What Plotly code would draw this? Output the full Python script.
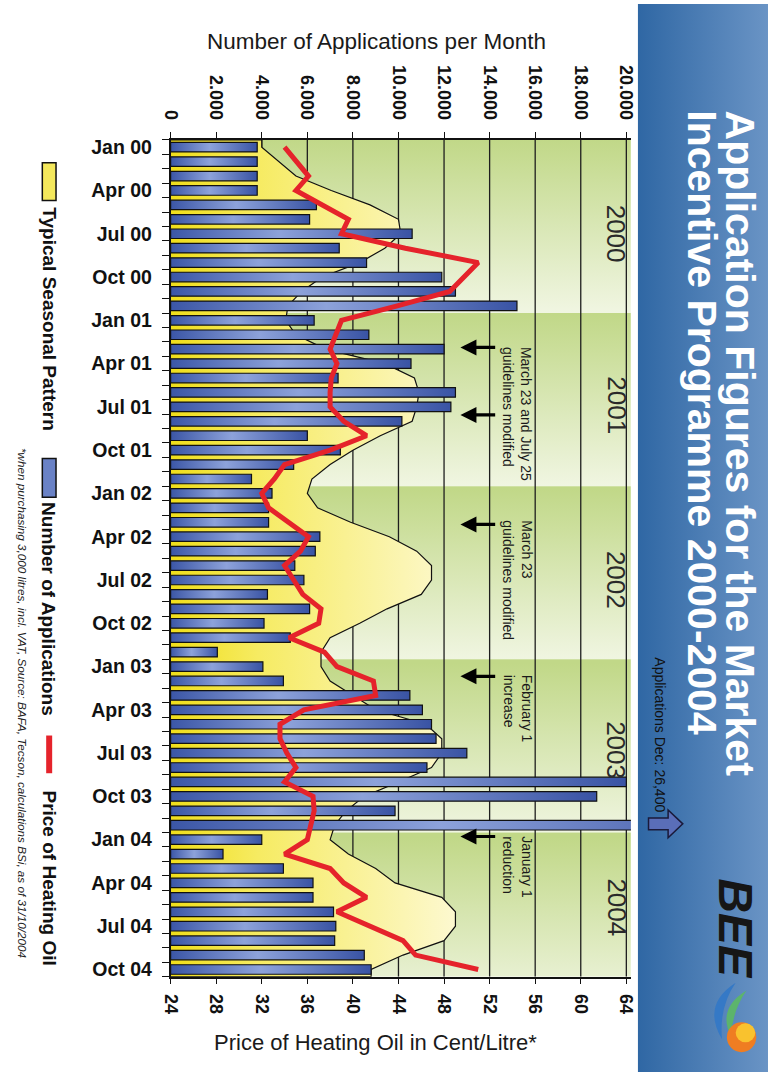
import plotly.graph_objects as go

# ---------------------------------------------------------------- data
month_names = ["Jan", "Feb", "Mar", "Apr", "May", "Jun",
               "Jul", "Aug", "Sep", "Oct", "Nov", "Dec"]
month_labels = [f"{m} {y:02d}" for y in range(0, 5) for m in month_names][:58]

# monthly number of applications (Jan 2000 - Oct 2004)
applications = [
    3800, 3800, 3800, 3800, 6400, 6100, 10600, 7400, 8600, 11900, 12500, 15200,
    6300, 8700, 12000, 10550, 7350, 12500, 12300, 10150, 6000, 7450, 5400, 3550,
    4450, 4300, 4300, 6550, 6350, 5450, 5850, 4250, 6100, 4100, 5250, 2050,
    4050, 4950, 10500, 11050, 11450, 11650, 13000, 11250, 20000, 18700, 9850, 26400,
    4000, 2300, 4950, 6250, 6250, 7150, 7250, 7200, 8500, 8800,
]

# price of heating oil, cent per litre
heating_oil_price = [
    34.0, 35.0, 36.1, 35.0, 37.3, 39.6, 39.0, 44.6, 51.0, 49.8, 48.5, 43.9,
    39.0, 38.5, 38.0, 38.6, 38.1, 38.0, 38.0, 39.2, 41.2, 38.0, 34.0, 33.1,
    32.0, 32.6, 34.3, 36.1, 35.4, 34.0, 34.8, 35.6, 37.2, 37.0, 34.4, 37.5,
    38.6, 41.8, 42.0, 35.7, 33.6, 33.6, 34.2, 35.0, 34.0, 36.5, 36.6, 36.3,
    36.0, 34.0, 38.0, 39.2, 41.2, 38.6, 41.5, 44.4, 45.5, 51.0,
]

# typical seasonal pattern of applications
seasonal_pattern = [
    4000, 4750, 5500, 7050, 8750, 10000, 10100, 9400, 8300, 6650, 5750, 5150,
    5050, 5500, 6800, 9400, 10700, 10900, 10800, 10600, 9200, 8000, 7000, 6200,
    6000, 6450, 7900, 9600, 10800, 11450, 11450, 11000, 9500, 8300, 7000, 6600,
    6600, 7000, 8000, 9000, 11200, 11900, 11900, 11450, 10000, 8500, 7700, 7200,
    7000, 7800, 9000, 9850, 11900, 12500, 12500, 12000, 10200, 8800,
]

years = ["2000", "2001", "2002", "2003", "2004"]
year_label_pos = [6.0, 17.9, 30.0, 41.8, 52.7]

app_ticks = list(range(0, 20001, 2000))
app_tick_text = ["0"] + [f"{v // 1000}.000" for v in app_ticks[1:]]
price_ticks = list(range(24, 65, 4))

# programme changes: (text, text top month, arrow months)
events = [
    ("March 23 and July 25<br>guidelines modified", 13.68, [13.88, 18.56]),
    ("March 23<br>guidelines modified", 25.7, [26.15]),
    ("February 1<br>increase", 36.4, [36.68]),
    ("January 1<br>reduction", 47.6, [47.78]),
]

# ---------------------------------------------------------------- geometry
W, H = 774, 1076
APP_MAX = 20200
APPS_PER_CENT = 500.0
PRICE_MIN = 24
N = len(applications)
FONT = "Liberation Sans, Arial, sans-serif"


def px(x):
    return x / W


def py(y):
    return 1 - y / H


fig = go.Figure()

# year bands with green gradient
for k in range(len(years)):
    top = 12 * k - 0.5
    bottom = min(12 * k + 11.5, N - 0.5)
    fig.add_trace(go.Scatter(
        x=[0, APP_MAX, APP_MAX, 0], y=[top, top, bottom, bottom],
        mode="lines", line=dict(width=0), fill="toself",
        fillgradient=dict(type="vertical", start=top, stop=12 * k + 11.5,
                          colorscale=[[0, "#c1d888"], [1, "#f1f6e3"]]),
        hoverinfo="skip", showlegend=False))

# vertical grid lines
gx, gy = [], []
for v in app_ticks[1:]:
    gx += [v, v, None]
    gy += [-0.5, N - 0.5, None]
fig.add_trace(go.Scatter(x=gx, y=gy, mode="lines",
                         line=dict(color="#1e1e1e", width=1.3),
                         hoverinfo="skip", showlegend=False))

# typical seasonal pattern (area)
sx = [0, seasonal_pattern[0]] + seasonal_pattern + [seasonal_pattern[-1], 0]
sy = [-0.5, -0.5] + list(range(N)) + [N - 0.5, N - 0.5]
fig.add_trace(go.Scatter(
    x=sx, y=sy, mode="lines", fill="toself",
    line=dict(color="#111111", width=1.2),
    fillgradient=dict(type="horizontal", start=0, stop=12500,
                      colorscale=[[0, "#f0de1a"], [0.3, "#f6eb62"], [1, "#fdf9d3"]]),
    hoverinfo="skip", showlegend=False))

# application bars
h = 0.33
for i, v in enumerate(applications):
    fig.add_trace(go.Scatter(
        x=[0, v, v, 0, 0], y=[i - h, i - h, i + h, i + h, i - h],
        mode="lines", fill="toself", line=dict(color="#111111", width=1.2),
        fillgradient=dict(type="horizontal",
                          colorscale=[[0, "#3b56a6"], [0.45, "#8da2da"], [1, "#3953a4"]]),
        hovertemplate=f"{month_labels[i]}: {v}<extra></extra>", showlegend=False))

# heating oil price
fig.add_trace(go.Scatter(
    x=heating_oil_price, y=list(range(N)), xaxis="x2", yaxis="y",
    mode="lines", line=dict(color="#e5232b", width=5),
    hoverinfo="skip", showlegend=False))

# side panel background
fig.add_trace(go.Scatter(
    x=[0, 1, 1, 0, 0], y=[0, 0, 1, 1, 0], xaxis="x3", yaxis="y3",
    mode="lines", line=dict(width=0), fill="toself",
    fillgradient=dict(type="horizontal", colorscale=[[0, "#2f67a4"], [1, "#6a94c5"]]),
    hoverinfo="skip", showlegend=False))

annotations = []

# year labels
for yl, pos in zip(years, year_label_pos):
    annotations.append(dict(x=19550, y=pos, xref="x", yref="y", text=yl,
                            showarrow=False, textangle=90,
                            xanchor="center", yanchor="middle",
                            font=dict(family=FONT, size=26, color="#2a2a2a")))

# event notes and arrows
for text, top, arrows in events:
    annotations.append(dict(x=15230, y=top, xref="x", yref="y", text=text,
                            showarrow=False, textangle=90, align="left",
                            xanchor="center", yanchor="top",
                            font=dict(family=FONT, size=14, color="#1a1a1a")))
    for a in arrows:
        annotations.append(dict(x=12720, y=a, ax=14310, ay=a, xref="x", yref="y",
                                axref="x", ayref="y", text="", showarrow=True,
                                arrowhead=2, arrowsize=1, arrowwidth=3.2,
                                arrowcolor="#000000", standoff=0))

# axis titles
annotations.append(dict(x=px(374), y=py(38), xref="paper", yref="paper",
                        text="Number of Applications per Month", showarrow=False,
                        xanchor="center", yanchor="middle",
                        font=dict(family=FONT, size=22.5, color="#1a1a1a")))
annotations.append(dict(x=px(373), y=py(1046), xref="paper", yref="paper",
                        text="Price of Heating Oil in Cent/Litre*", showarrow=False,
                        xanchor="center", yanchor="middle",
                        font=dict(family=FONT, size=22, color="#1a1a1a")))

# legend texts
legend_items = [("Typical Seasonal Pattern", 203), ("Number of Applications", 500),
                ("Price of Heating Oil", 790)]
for text, top in legend_items:
    annotations.append(dict(x=px(40), y=py(top), xref="paper", yref="paper",
                            text=text, showarrow=False, textangle=90,
                            xanchor="center", yanchor="top",
                            font=dict(family=FONT, size=19, color="#111111",
                                      weight="bold")))
annotations.append(dict(
    x=px(13), y=py(445), xref="paper", yref="paper", showarrow=False,
    text="*when purchasing 3,000 litres, incl. VAT, Source: BAFA, Tecson, "
         "calculations BSi, as of 31/10/2004",
    textangle=90, xanchor="center", yanchor="top",
    font=dict(family=FONT, size=11.7, color="#222222", style="italic")))

# panel title and notes
annotations.append(dict(x=px(745), y=py(105), xref="paper", yref="paper",
                        text="Application Figures for the Market", showarrow=False,
                        textangle=90, xanchor="center", yanchor="top",
                        font=dict(family=FONT, size=41, color="white", weight="bold")))
annotations.append(dict(x=px(707), y=py(105), xref="paper", yref="paper",
                        text="Incentive Programme 2000-2004", showarrow=False,
                        textangle=90, xanchor="center", yanchor="top",
                        font=dict(family=FONT, size=41, color="white", weight="bold")))
annotations.append(dict(x=px(664), y=py(656), xref="paper", yref="paper",
                        text=f"Applications Dec: {applications[47]:,}", showarrow=False,
                        textangle=90, xanchor="center", yanchor="top",
                        font=dict(family=FONT, size=14, color="#111111")))
annotations.append(dict(x=px(741), y=py(932), xref="paper", yref="paper",
                        text="BEE", showarrow=False, textangle=90,
                        xanchor="center", yanchor="middle",
                        font=dict(family=FONT, size=48, color="#161616",
                                  weight="bold", style="italic")))


def path(points):
    s = "M " + " L ".join(f"{px(x):.5f},{py(y):.5f}" for x, y in points)
    return s + " Z"


def qpath(p0, c1, p1, c2):
    return (f"M {px(p0[0]):.5f},{py(p0[1]):.5f} "
            f"Q {px(c1[0]):.5f},{py(c1[1]):.5f} {px(p1[0]):.5f},{py(p1[1]):.5f} "
            f"Q {px(c2[0]):.5f},{py(c2[1]):.5f} {px(p0[0]):.5f},{py(p0[1]):.5f} Z")


shapes = [
    # legend swatches
    dict(type="rect", xref="paper", yref="paper", x0=px(33), x1=px(47),
         y0=py(198), y1=py(160), fillcolor="#f4e85c",
         line=dict(color="#111111", width=1.5)),
    dict(type="rect", xref="paper", yref="paper", x0=px(33), x1=px(47),
         y0=py(497), y1=py(458), fillcolor="#6a82c6",
         line=dict(color="#111111", width=1.5)),
    dict(type="line", xref="paper", yref="paper", x0=px(40), x1=px(40),
         y0=py(775), y1=py(737), line=dict(color="#e5232b", width=6)),
    # arrow for the off-scale December bar
    dict(type="path", xref="paper", yref="paper",
         path=path([(652, 820), (672, 820), (672, 812), (687, 826),
                    (672, 840), (672, 832), (652, 832)]),
         fillcolor="#5a6eb8", line=dict(color="#1a1a3a", width=1.5)),
    # logo
    dict(type="path", xref="paper", yref="paper",
         path=qpath((741, 986), (706, 1008), (727, 1043), (724, 1010)),
         fillcolor="#3579c6", line=dict(width=0)),
    dict(type="path", xref="paper", yref="paper",
         path=qpath((752, 994), (722, 1012), (736, 1040), (738, 1014)),
         fillcolor="#5cb46c", line=dict(width=0)),
    dict(type="circle", xref="paper", yref="paper", x0=px(732), x1=px(762),
         y0=py(1056), y1=py(1026), fillcolor="#ef7d22", line=dict(width=0)),
    dict(type="circle", xref="paper", yref="paper", x0=px(741), x1=px(761),
         y0=py(1046), y1=py(1027), fillcolor="#f9c22e", line=dict(width=0)),
]

fig.update_layout(
    width=W, height=H, margin=dict(l=0, r=0, t=0, b=0),
    paper_bgcolor="white", plot_bgcolor="white",
    font=dict(family=FONT, color="#111111"),
    showlegend=False,
    xaxis=dict(domain=[px(164), px(634)], range=[0, APP_MAX], side="top",
               anchor="y", tickmode="array", tickvals=app_ticks,
               ticktext=app_tick_text, tickangle=90,
               tickfont=dict(family=FONT, size=18, color="#111111", weight="bold"),
               ticks="outside", ticklen=6, tickwidth=1.3, tickcolor="#111111",
               ticklabelstandoff=6, showline=True, linecolor="#111111",
               linewidth=1.5, showgrid=False, zeroline=False, fixedrange=True),
    xaxis2=dict(overlaying="x", side="bottom", anchor="y",
                range=[PRICE_MIN, PRICE_MIN + APP_MAX / APPS_PER_CENT],
                tickmode="array", tickvals=price_ticks, tickangle=90,
                tickfont=dict(family=FONT, size=18, color="#111111", weight="bold"),
                ticks="outside", ticklen=6, tickwidth=1.3, tickcolor="#111111",
                ticklabelstandoff=6, showline=True, linecolor="#111111",
                linewidth=1.5, showgrid=False, zeroline=False, fixedrange=True),
    yaxis=dict(domain=[py(980), py(137)], range=[N - 0.5, -0.5], anchor="x",
               tickmode="array", tickvals=list(range(0, N, 3)),
               ticktext=month_labels[::3],
               tickfont=dict(family=FONT, size=19.5, color="#111111", weight="bold"),
               ticks="outside", ticklen=13, tickcolor="rgba(0,0,0,0)",
               minor=dict(tickvals=[i - 0.5 for i in range(N + 1)], ticks="outside",
                          ticklen=7, tickwidth=1.3, tickcolor="#111111"),
               showline=True, linecolor="#111111", linewidth=1.5,
               showgrid=False, zeroline=False, fixedrange=True),
    xaxis3=dict(domain=[px(641), 1], range=[0, 1], anchor="y3", visible=False,
                fixedrange=True),
    yaxis3=dict(domain=[0, 1], range=[0, 1], anchor="x3", visible=False,
                fixedrange=True),
    annotations=annotations,
    shapes=shapes,
)

fig.write_html("out.html")
